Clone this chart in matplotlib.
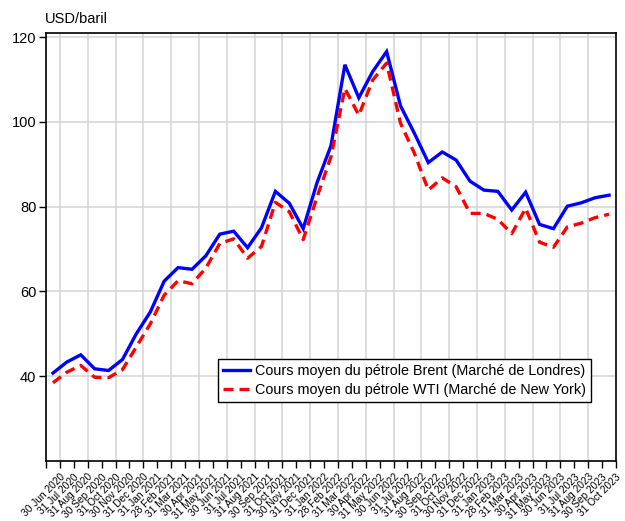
import matplotlib
matplotlib.use("Agg")
import matplotlib.pyplot as plt
import numpy as np

plt.rcParams['font.family'] = ['Liberation Sans', 'DejaVu Sans']

# Month-end labels (period boundaries)
tick_labels = [
    "30 Jun 2020", "31 Jul 2020", "31 Aug 2020", "30 Sep 2020", "31 Oct 2020",
    "30 Nov 2020", "31 Dec 2020", "31 Jan 2021", "28 Feb 2021", "31 Mar 2021",
    "30 Apr 2021", "31 May 2021", "30 Jun 2021", "31 Jul 2021", "31 Aug 2021",
    "30 Sep 2021", "31 Oct 2021", "30 Nov 2021", "31 Dec 2021", "31 Jan 2022",
    "28 Feb 2022", "31 Mar 2022", "30 Apr 2022", "31 May 2022", "30 Jun 2022",
    "31 Jul 2022", "31 Aug 2022", "30 Sep 2022", "31 Oct 2022", "30 Nov 2022",
    "31 Dec 2022", "31 Jan 2023", "28 Feb 2023", "31 Mar 2023", "30 Apr 2023",
    "31 May 2023", "30 Jun 2023", "31 Jul 2023", "31 Aug 2023", "30 Sep 2023",
    "31 Oct 2023",
]

brent = [40.7, 43.3, 45.0, 41.7, 41.3, 43.9, 50.0, 55.1, 62.4, 65.6,
         65.2, 68.4, 73.5, 74.2, 70.3, 75.0, 83.6, 80.8, 74.8, 85.7,
         94.4, 113.5, 105.7, 111.9, 116.6, 103.8, 97.3, 90.4, 92.9, 91.0,
         86.0, 83.9, 83.6, 79.2, 83.4, 75.8, 74.8, 80.1, 80.9, 82.1,
         82.7]

wti = [38.4, 40.9, 42.5, 39.7, 39.6, 41.5, 46.9, 52.3, 59.1, 62.5,
       61.8, 65.5, 71.3, 72.4, 67.8, 70.6, 81.0, 78.8, 72.2, 82.3,
       91.8, 107.9, 101.6, 109.9, 113.9, 99.7, 92.6, 83.9, 86.8, 84.7,
       78.4, 78.4, 77.0, 73.6, 79.6, 71.6, 70.4, 75.2, 76.1, 77.4,
       78.2]

label_brent = "Cours moyen du pétrole Brent (Marché de Londres)"
label_wti = "Cours moyen du pétrole WTI (Marché de New York)"
y_ticks = [40, 60, 80, 100, 120]

fig = plt.figure(figsize=(6.25, 5.21), dpi=100)
ax = fig.add_axes([46/625, 1-460.7/521, (616-46)/625, (460.7-33)/521])

x = np.arange(len(brent)) + 0.5
ax.plot(x, brent, color='#0000FF', lw=2.4, solid_joinstyle='miter', label=label_brent, zorder=3)
ax.plot(x, wti, color='#FF0000', lw=2.4, linestyle=(0, (3, 1.8)), label=label_wti, zorder=3)

ax.set_xlim(0, len(tick_labels))
ax.set_ylim(20, 121)

ax.set_xticks(np.arange(0, len(tick_labels) + 1))
ax.set_xticklabels([""] + tick_labels, rotation=45, ha='right', va='top',
                   rotation_mode='anchor', fontsize=7.3)
ax.set_yticks(y_ticks)
ax.set_yticklabels([str(v) for v in y_ticks], fontsize=10.5)

# grid: horizontal at y ticks, vertical every other month boundary
for v in y_ticks:
    ax.axhline(v, color='#D4D4D4', lw=1.1, zorder=1)
for k in range(1, len(tick_labels), 2):
    ax.axvline(k, color='#D4D4D4', lw=1.1, zorder=1)

ax.tick_params(axis='both', direction='out', length=5, width=1.0, color='black')
ax.tick_params(axis='y', pad=2)
ax.tick_params(axis='x', pad=3)
for s in ax.spines.values():
    s.set_linewidth(1.2)
    s.set_color('black')

leg = ax.legend(loc='upper left', bbox_to_anchor=(0.302, 0.237), borderaxespad=0,
                fancybox=False, edgecolor='black', framealpha=1, fontsize=10.4,
                handlelength=1.9, handletextpad=0.35, borderpad=0.33, labelspacing=0.33)
leg.get_frame().set_linewidth(1.0)

fig.text(45/625, 1-23/521, "USD/baril", fontsize=10.5, va='baseline', ha='left')

fig.savefig("out.png", dpi=100)
